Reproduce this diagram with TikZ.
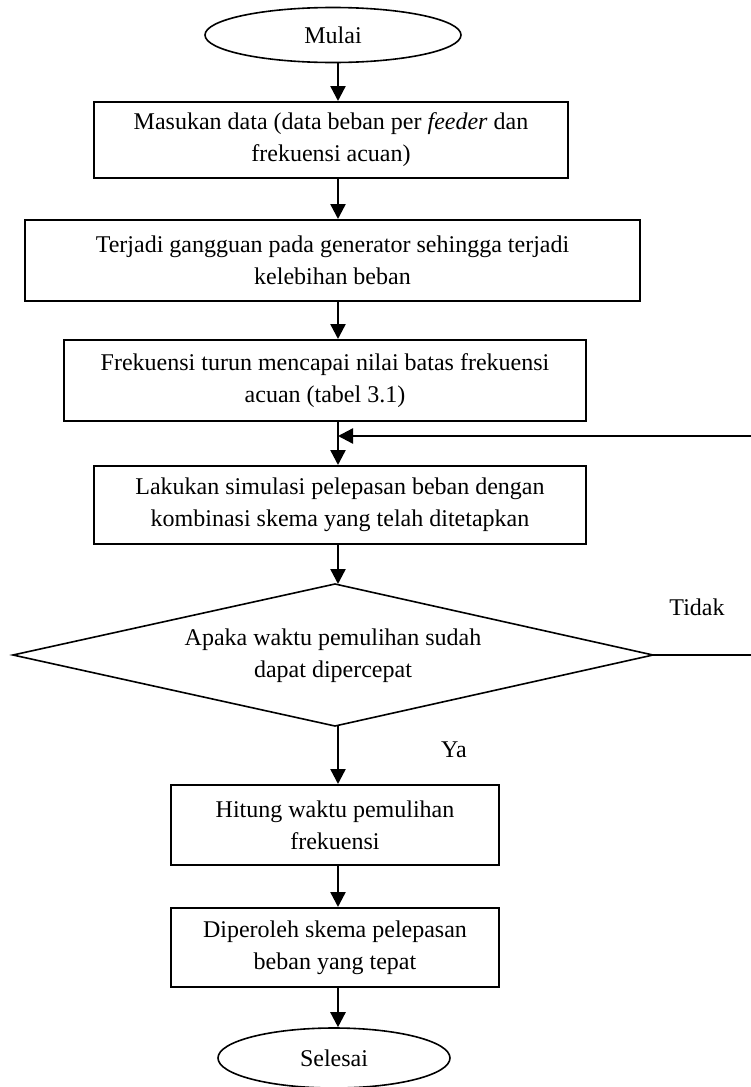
\documentclass[tikz,border=0pt]{standalone}
\usepackage{fontspec}
\setmainfont{Liberation Serif}
\usetikzlibrary{shapes.geometric,arrows.meta}
\begin{document}
\begin{tikzpicture}[x=1pt,y=-1pt,
 txt/.style={font=\fontsize{24}{32}\selectfont, align=center},
 proc/.style={draw, line width=2pt, rectangle, inner sep=0pt, txt},
 term/.style={draw, line width=1.6pt, ellipse, inner sep=0pt, txt},
 decline/.style={line width=1.6pt, line join=miter},
 flow/.style={line width=2.4pt, -{Triangle[length=15pt,width=15pt]}},
 thinline/.style={line width=1.4pt},
 lbl/.style={txt}]
\useasboundingbox (0,0) rectangle (750,1087);
\fill[white] (0,0) rectangle (750,1087);
\coordinate (ax) at (338,0);
\node[term, minimum width=256pt, minimum height=55pt] (start) at (333,35) {Mulai};
\node[proc, minimum width=474pt, minimum height=76pt] (b1) at (331,140) {Masukan data (data beban per \textit{feeder} dan\\frekuensi acuan)};
\node[proc, minimum width=615pt, minimum height=81pt] (b2) at (332.5,260.5) {Terjadi gangguan pada generator sehingga terjadi\\kelebihan beban};
\node[proc, minimum width=522pt, minimum height=81pt] (b3) at (325,380.5) {Frekuensi turun mencapai nilai batas frekuensi\\acuan (tabel 3.1)};
\node[proc, minimum width=492pt, minimum height=78pt] (b4) at (340,505) {Lakukan simulasi pelepasan beban dengan\\kombinasi skema yang telah ditetapkan};
\coordinate (dN) at (335,584);
\coordinate (dW) at (13,655);
\coordinate (dE) at (653,655);
\coordinate (dS) at (335,726);
\draw[decline] (dN) -- (dE) -- (dS) -- (dW) -- cycle;
\node[txt] (dia) at (333,656) {Apaka waktu pemulihan sudah\\dapat dipercepat};
\node[proc, minimum width=328pt, minimum height=80pt] (b5) at (335,825) {Hitung waktu pemulihan\\frekuensi};
\node[proc, minimum width=328pt, minimum height=79pt] (b6) at (335,947.5) {Diperoleh skema pelepasan\\beban yang tepat};
\node[term, minimum width=232pt, minimum height=60pt] (end) at (334,1058) {Selesai};
\node[lbl] (tidak) at (697,607) {Tidak};
\node[lbl] (ya) at (454,750) {Ya};
\coordinate (j) at (338,436);
\coordinate (r1) at (753,655);
\coordinate (r2) at (753,436);
\draw[flow] (start.south -| ax) -- (b1.north -| ax);
\draw[flow] (b1.south -| ax) -- (b2.north -| ax);
\draw[flow] (b2.south -| ax) -- (b3.north -| ax);
\draw[flow] (b3.south -| ax) -- (b4.north -| ax);
\draw[flow] (b4.south -| ax) -- (dN -| ax);
\draw[flow] (dS -| ax) -- (b5.north -| ax);
\draw[flow] (b5.south -| ax) -- (b6.north -| ax);
\draw[flow] (b6.south -| ax) -- (end.north -| ax);
\draw[thinline] (dE) -- (r1);
\draw[flow] (r1) -- (r2) -- (j);
\end{tikzpicture}
\end{document}
